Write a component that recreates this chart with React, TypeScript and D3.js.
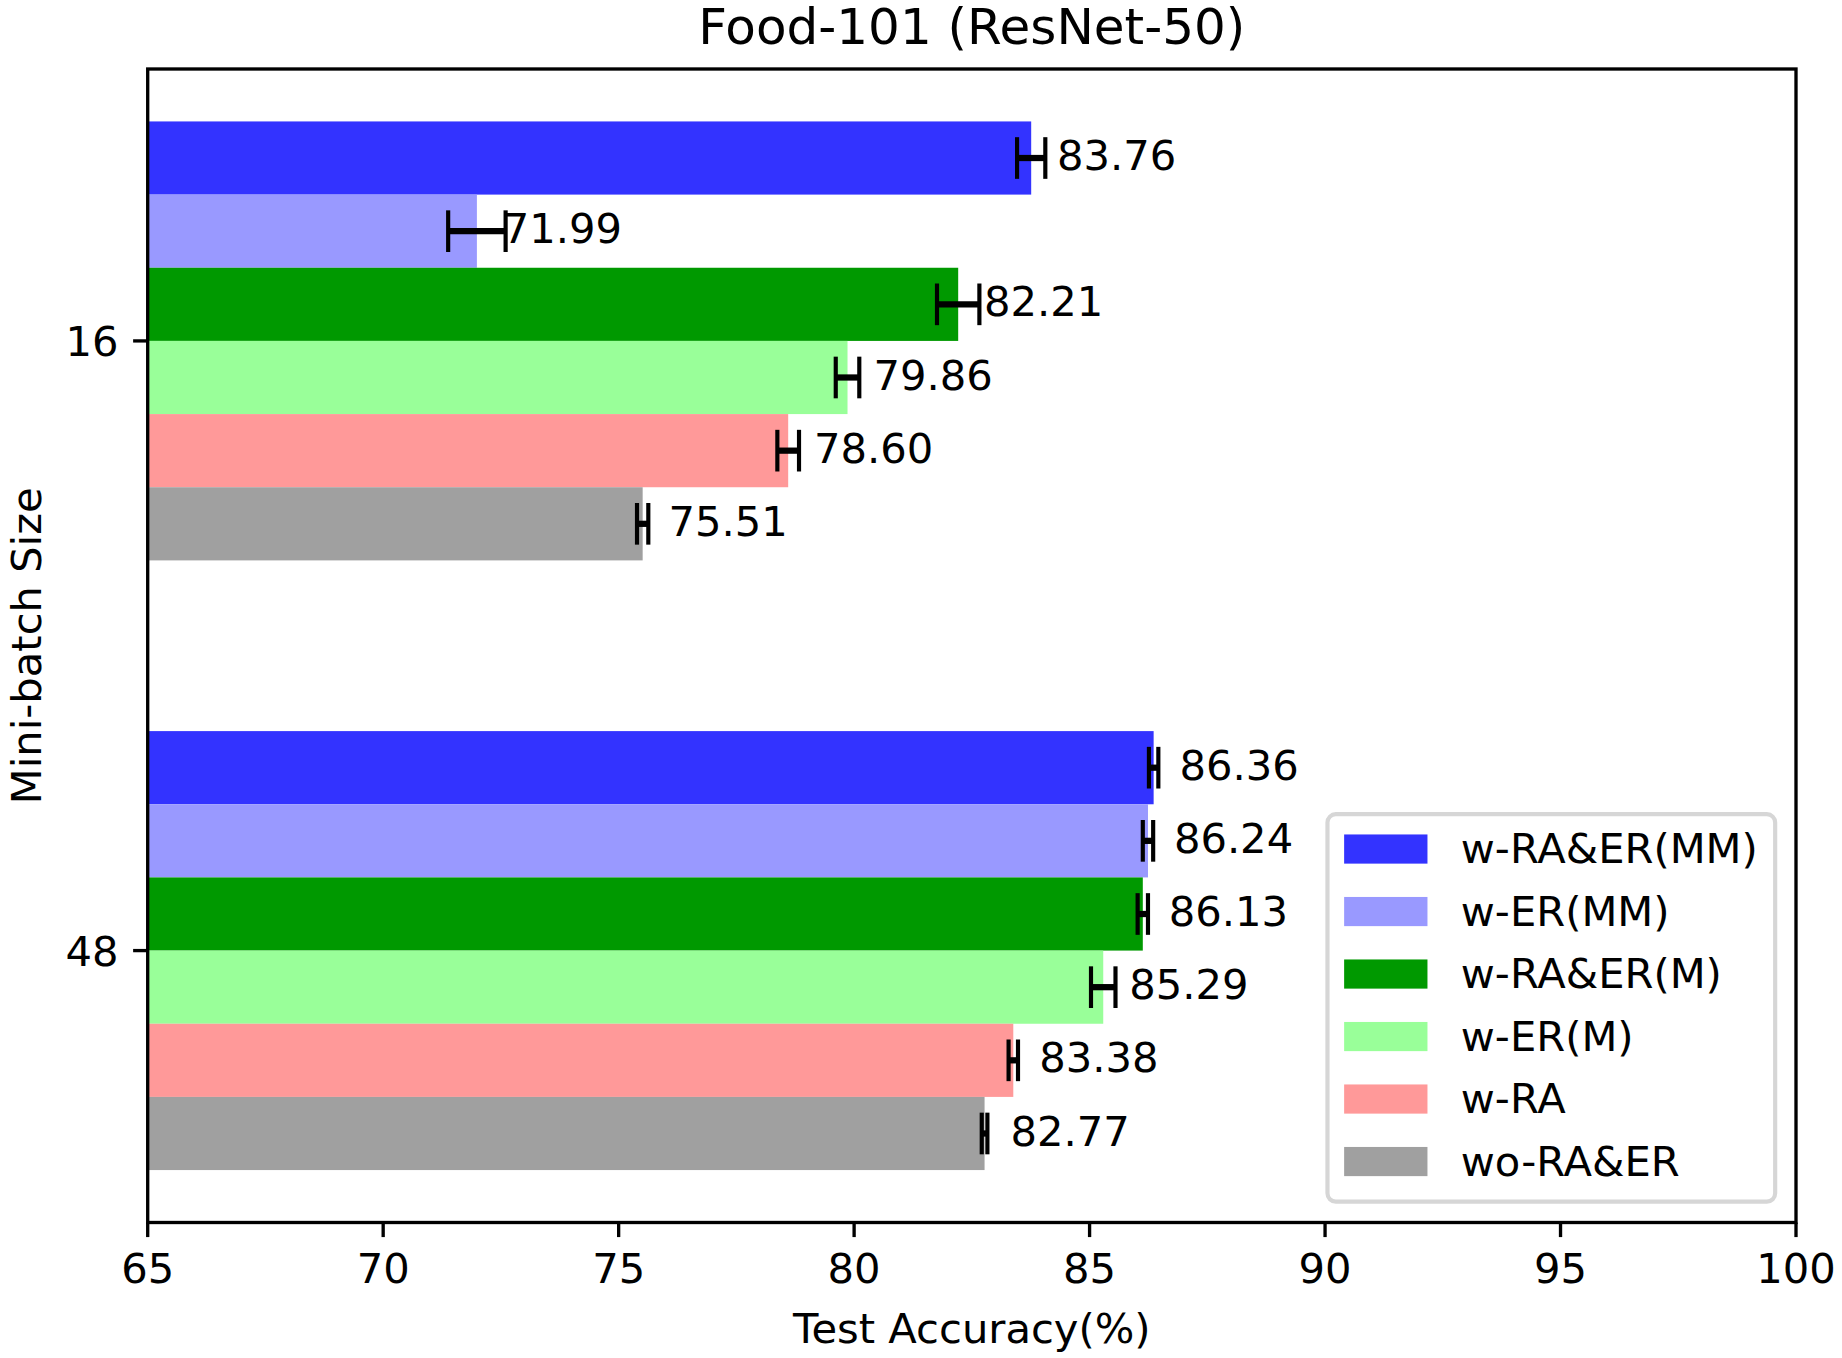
import * as d3 from 'd3';

// chart data
const title = 'Food-101 (ResNet-50)';
const batchSizes = ['16', '48'];
const methods = ['w-RA&ER(MM)', 'w-ER(MM)', 'w-RA&ER(M)', 'w-ER(M)', 'w-RA', 'wo-RA&ER'];
const colors = ['#3333ff', '#9999ff', '#009900', '#99ff99', '#ff9999', '#a0a0a0'];
const acc16 = [83.76, 71.99, 82.21, 79.86, 78.6, 75.51];
const acc48 = [86.36, 86.24, 86.13, 85.29, 83.38, 82.77];
const err16 = [0.3, 0.61, 0.45, 0.25, 0.23, 0.12];
const err48 = [0.1, 0.11, 0.11, 0.26, 0.1, 0.06];
const xTicks = [65, 70, 75, 80, 85, 90, 95, 100];

const accs = [acc16, acc48];
const errs = [err16, err48];

const W = 1842;
const H = 1358;
const PT = 300 / 72;
const FS = 10 * PT; // 10pt at 300dpi
const FONT = '"DejaVu Sans", sans-serif';
const margin = { top: 69, right: W - 1796, bottom: H - 1222.5, left: 147.7 };
const barH = 0.12;

export default function App() {
  const x = d3.scaleLinear().domain([65, 100]).range([margin.left, W - margin.right]);
  // bars span [-0.36, 1.36], matplotlib adds 5% margin
  const lo = -3 * barH;
  const hi = batchSizes.length - 1 + 3 * barH;
  const pad = (hi - lo) * 0.05;
  const y = d3
    .scaleLinear()
    .domain([lo - pad, hi + pad])
    .range([margin.top, H - margin.bottom]);

  const x0 = margin.left;
  const x1 = W - margin.right;
  const y0 = margin.top;
  const y1 = H - margin.bottom;
  const tick = 3.5 * PT;
  const lw = 0.8 * PT;
  const capsize = 5 * PT;

  const bars = batchSizes.flatMap((b, gi) =>
    methods.map((m, j) => ({
      gi,
      j,
      v: accs[gi][j],
      e: errs[gi][j],
      c: (gi + (j - 2.5) * barH),
    })),
  );

  // legend box, lower right
  const legRight = x1 - 0.5 * FS;
  const legBottom = y1 - 0.5 * FS;
  const legW = 447.7;
  const legH = 0.8 * FS + methods.length * FS + (methods.length - 1) * 0.5 * FS;
  const legLeft = legRight - legW;
  const legTop = legBottom - legH;

  return (
    <svg
      width={W}
      height={H}
      style={{ position: 'absolute', left: 0, top: 0, display: 'block', background: '#fff' }}
      fontFamily={FONT}
    >
      <rect x={0} y={0} width={W} height={H} fill="#fff" />

      {bars.map((d) => (
        <rect
          key={`b${d.gi}-${d.j}`}
          x={x(65)}
          y={y(d.c - barH / 2)}
          width={x(d.v) - x(65)}
          height={y(d.c + barH / 2) - y(d.c - barH / 2)}
          fill={colors[d.j]}
        />
      ))}

      {bars.map((d) => (
        <g key={`e${d.gi}-${d.j}`} stroke="#000">
          <line x1={x(d.v - d.e)} x2={x(d.v + d.e)} y1={y(d.c)} y2={y(d.c)} strokeWidth={1.5 * PT} />
          <line x1={x(d.v - d.e)} x2={x(d.v - d.e)} y1={y(d.c) - capsize} y2={y(d.c) + capsize} strokeWidth={PT} />
          <line x1={x(d.v + d.e)} x2={x(d.v + d.e)} y1={y(d.c) - capsize} y2={y(d.c) + capsize} strokeWidth={PT} />
        </g>
      ))}

      {bars.map((d) => (
        <text key={`t${d.gi}-${d.j}`} x={x(d.v + 0.55)} y={y(d.c)} dy="0.29em" fontSize={FS} fill="#000">
          {d.v.toFixed(2)}
        </text>
      ))}

      {/* spines */}
      <rect x={x0} y={y0} width={x1 - x0} height={y1 - y0} fill="none" stroke="#000" strokeWidth={lw} />

      {/* x axis */}
      {xTicks.map((t) => (
        <g key={`x${t}`}>
          <line x1={x(t)} x2={x(t)} y1={y1} y2={y1 + tick} stroke="#000" strokeWidth={lw} />
          <text x={x(t)} y={y1 + 60.5} textAnchor="middle" fontSize={FS} fill="#000">
            {t}
          </text>
        </g>
      ))}
      <text x={(x0 + x1) / 2} y={y1 + 120.8} textAnchor="middle" fontSize={FS} fill="#000">
        Test Accuracy(%)
      </text>

      {/* y axis */}
      {batchSizes.map((b, i) => (
        <g key={`y${b}`}>
          <line x1={x0 - tick} x2={x0} y1={y(i)} y2={y(i)} stroke="#000" strokeWidth={lw} />
          <text x={x0 - 2 * tick} y={y(i)} dy="0.365em" textAnchor="end" fontSize={FS} fill="#000">
            {b}
          </text>
        </g>
      ))}
      <text
        transform={`translate(40.5,${(y0 + y1) / 2}) rotate(-90)`}
        textAnchor="middle"
        fontSize={FS}
        fill="#000"
      >
        Mini-batch Size
      </text>

      <text x={(x0 + x1) / 2} y={y0 - 6 * PT} textAnchor="middle" fontSize={12 * PT} fill="#000">
        {title}
      </text>

      {/* legend */}
      <rect
        x={legLeft}
        y={legTop}
        width={legW}
        height={legH}
        rx={0.2 * FS}
        fill="#fff"
        fillOpacity={0.8}
        stroke="#d6d6d6"
        strokeWidth={PT}
      />
      {methods.map((m, i) => {
        const rowTop = legTop + 0.4 * FS + i * 1.5 * FS;
        return (
          <g key={`l${m}`}>
            <rect x={legLeft + 0.4 * FS} y={rowTop + 0.087 * FS} width={2 * FS} height={0.7 * FS} fill={colors[i]} />
            <text x={legLeft + 3.2 * FS} y={rowTop + 0.78 * FS} fontSize={FS} fill="#000">
              {m}
            </text>
          </g>
        );
      })}
    </svg>
  );
}
